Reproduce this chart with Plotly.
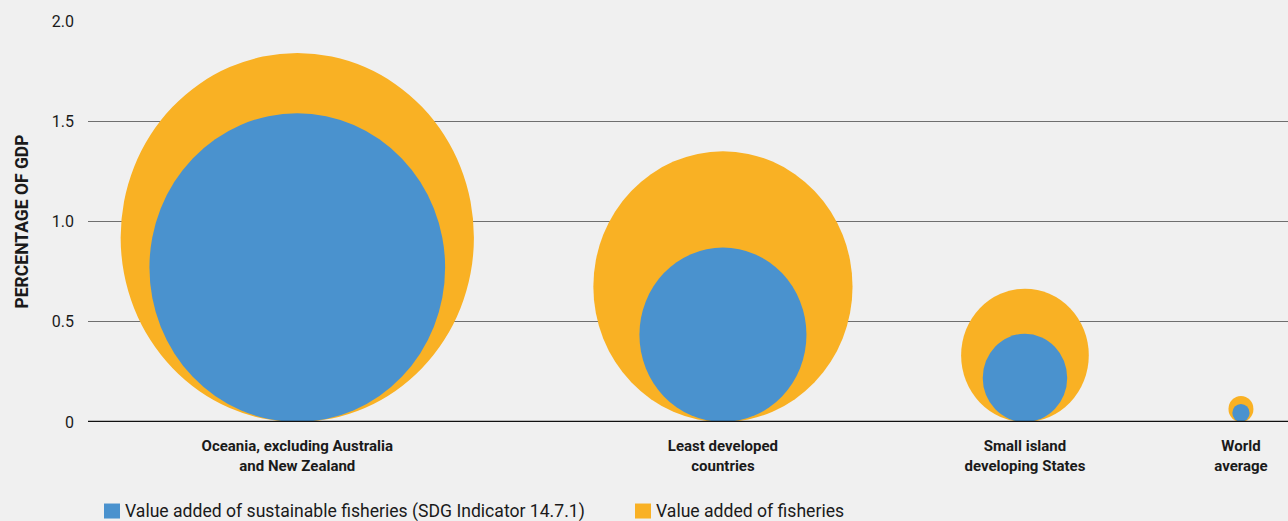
import plotly.graph_objects as go

# ---- data ----
categories = [
    "Oceania, excluding Australia<br>and New Zealand",
    "Least developed<br>countries",
    "Small island<br>developing States",
    "World<br>average",
]
fisheries_va = [1.84, 1.35, 0.665, 0.13]          # Value added of fisheries (% of GDP)
sustainable_va = [1.54, 0.87, 0.44, 0.09]         # Value added of sustainable fisheries (SDG 14.7.1)
y_ticks = [0, 0.5, 1.0, 1.5, 2.0]
y_ticktext = ["0", "0.5", "1.0", "1.5", "2.0"]
series_names = [
    "Value added of sustainable fisheries (SDG Indicator 14.7.1)",
    "Value added of fisheries",
]

# ---- layout / style ----
x_centers = [1.09, 3.307, 4.88, 6.005]
X_RANGE = [0, 6.25]
Y_RANGE = [0, 2.0]
ORANGE = "#F9B124"
BLUE = "#4A92CE"
BG = "#F0F0F0"
FONT = "Roboto, Liberation Sans Narrow, DejaVu Sans Condensed, sans-serif"

fig = go.Figure()
# invisible trace to establish the axes
fig.add_trace(go.Scatter(x=x_centers, y=[0] * len(x_centers), mode="markers",
                         marker=dict(opacity=0), showlegend=False, hoverinfo="skip"))

shapes = []
for xc, big, small in zip(x_centers, fisheries_va, sustainable_va):
    shapes.append(dict(type="circle", xref="x", yref="y",
                       x0=xc - big / 2, x1=xc + big / 2, y0=0, y1=big,
                       fillcolor=ORANGE, line=dict(width=0), layer="above"))
    shapes.append(dict(type="circle", xref="x", yref="y",
                       x0=xc - small / 2, x1=xc + small / 2, y0=0, y1=small,
                       fillcolor=BLUE, line=dict(width=0), layer="above"))
# baseline
shapes.append(dict(type="line", xref="paper", yref="y", x0=0, x1=1, y0=0, y1=0,
                   line=dict(color="#111111", width=2.5), layer="above"))

# manual legend
leg_y = -0.222
sq_h = 15 / 401
sq_w = 16 / 1200
legend_items = [(BLUE, series_names[0], 16 / 1200), (ORANGE, series_names[1], 547 / 1200)]
annotations = []
for col, name, x0 in legend_items:
    shapes.append(dict(type="rect", xref="paper", yref="paper",
                       x0=x0, x1=x0 + sq_w, y0=leg_y - sq_h / 2, y1=leg_y + sq_h / 2,
                       fillcolor=col, line=dict(width=0)))
    annotations.append(dict(xref="paper", yref="paper", x=x0 + sq_w + 3 / 1200, y=leg_y,
                            xanchor="left", yanchor="middle", showarrow=False,
                            text=name, font=dict(size=17.6, color="#1a1a1a", family=FONT)))

annotations.append(dict(xref="paper", yref="paper", x=-67 / 1200, y=0.5,
                        xanchor="center", yanchor="middle", textangle=-90, showarrow=False,
                        text="<b>PERCENTAGE OF GDP</b>",
                        font=dict(size=17.5, color="#1a1a1a", family=FONT)))

fig.update_layout(
    width=1288, height=521,
    margin=dict(l=88, r=0, t=21, b=99),
    paper_bgcolor=BG, plot_bgcolor=BG,
    font=dict(family=FONT, color="#1a1a1a"),
    showlegend=False,
    shapes=shapes,
    annotations=annotations,
    xaxis=dict(range=X_RANGE, showgrid=False, zeroline=False, showline=False,
               tickvals=x_centers, ticktext=["<b>" + c + "</b>" for c in categories],
               ticks="", ticklabelstandoff=13,
               tickfont=dict(size=15, color="#1a1a1a", family=FONT), fixedrange=True),
    yaxis=dict(range=Y_RANGE, tickvals=y_ticks, ticktext=y_ticktext,
               showgrid=True, gridcolor="#6f6f6f", gridwidth=1, zeroline=False,
               showline=False, ticks="", ticklabelstandoff=13,
               tickfont=dict(size=16, color="#1a1a1a", family=FONT), fixedrange=True),
)

fig.write_html(
    "out.html",
    config={"displayModeBar": False},
    post_script="document.body.style.margin='0';document.body.style.background='#F0F0F0';",
)
